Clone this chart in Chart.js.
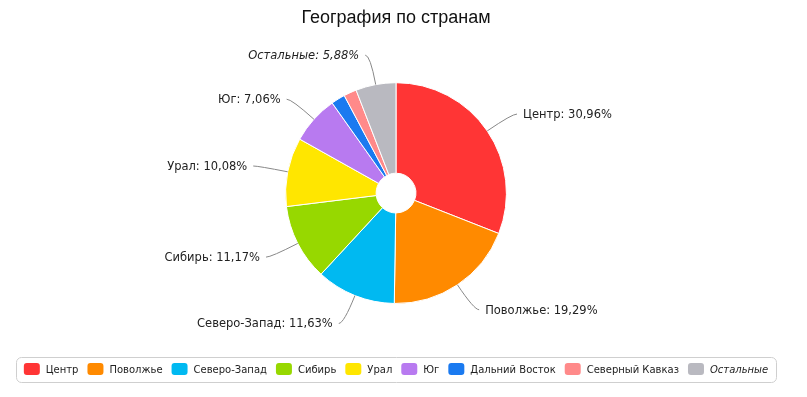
<!DOCTYPE html>
<html>
<head>
<meta charset="utf-8">
<script src="https://cdn.jsdelivr.net/npm/chart.js@4"></script>
<style>
  html, body { margin: 0; padding: 0; background: #fff; }
  #wrap { width: 807px; height: 397px; }
</style>
</head>
<body>
<div id="wrap"><canvas id="geoChart" width="807" height="397"></canvas></div>
<script>
const categories = ['Центр', 'Поволжье', 'Северо-Запад', 'Сибирь', 'Урал', 'Юг', 'Дальний Восток', 'Северный Кавказ', 'Остальные'];
const shares = [30.96, 19.29, 11.63, 11.17, 10.08, 7.06, 2.05, 1.88, 5.88];
const colors = ['#ff3535', '#ff8a00', '#00b9f1', '#97d800', '#ffe600', '#b87af0', '#1a7af0', '#ff8a8a', '#b9b9c0'];
const italicCats = ['Остальные'];

const fmt = v => v.toFixed(2).replace('.', ',') + '%';
const FONT = '"DejaVu Sans", Verdana, sans-serif';

// подписи с выносками
const sliceLabels = {
  id: 'sliceLabels',
  afterDatasetsDraw(chart) {
    const ctx = chart.ctx;
    const meta = chart.getDatasetMeta(0);
    ctx.save();
    meta.data.forEach((arc, i) => {
      if (shares[i] < 5) return;
      const mid = (arc.startAngle + arc.endAngle) / 2;
      const cos = Math.cos(mid), sin = Math.sin(mid);
      const r = arc.outerRadius;
      const ex = arc.x + r * cos, ey = arc.y + r * sin;
      const ax = arc.x + (r + 30) * cos, ay = arc.y + (r + 30) * sin;
      const side = cos >= 0 ? 1 : -1;
      ctx.strokeStyle = '#888';
      ctx.lineWidth = 1;
      ctx.beginPath();
      ctx.moveTo(ex, ey);
      ctx.quadraticCurveTo(ax, ay, ax + side * 5, ay);
      ctx.stroke();
      const it = italicCats.includes(categories[i]);
      ctx.font = (it ? 'italic ' : '') + '11.5px ' + FONT;
      ctx.fillStyle = '#222';
      ctx.textBaseline = 'middle';
      ctx.textAlign = side > 0 ? 'left' : 'right';
      ctx.fillText(categories[i] + ': ' + fmt(shares[i]), ax + side * 11, ay + 1);
    });
    ctx.restore();
  }
};

// легенда в рамке
const boxLegend = {
  id: 'boxLegend',
  afterDraw(chart) {
    const ctx = chart.ctx;
    ctx.save();
    const sw = 16, sh = 12, gapText = 6, gapItem = 9;
    const lf = c => (italicCats.includes(c) ? 'italic ' : '') + '10px ' + FONT;
    const widths = categories.map(c => {
      ctx.font = lf(c);
      return sw + gapText + ctx.measureText(c).width;
    });
    const total = widths.reduce((a, b) => a + b, 0) + gapItem * (categories.length - 1);
    const cx = 396, cy = 369;
    let x = cx - total / 2;
    // рамка
    ctx.strokeStyle = '#cfcfcf';
    ctx.lineWidth = 1;
    ctx.beginPath();
    ctx.roundRect(Math.round(x - 8) + 0.5, 357.5, Math.round(total + 16), 25, 5);
    ctx.stroke();
    categories.forEach((c, i) => {
      ctx.fillStyle = colors[i];
      ctx.beginPath();
      ctx.roundRect(x, cy - sh / 2, sw, sh, 3);
      ctx.fill();
      ctx.font = lf(c);
      ctx.fillStyle = '#222';
      ctx.textBaseline = 'middle';
      ctx.textAlign = 'left';
      ctx.fillText(c, x + sw + gapText, cy + 1);
      x += widths[i] + gapItem;
    });
    ctx.restore();
  }
};

new Chart(document.getElementById('geoChart'), {
  type: 'doughnut',
  data: {
    labels: categories,
    datasets: [{
      data: shares,
      backgroundColor: colors,
      borderColor: '#ffffff',
      borderWidth: 1
    }]
  },
  options: {
    responsive: false,
    animation: false,
    cutout: '18%',
    layout: { padding: { left: 0, right: 15, top: 0, bottom: 93 } },
    plugins: {
      legend: { display: false },
      tooltip: { enabled: false },
      title: {
        display: true,
        text: 'География по странам',
        color: '#111',
        font: { family: '"Liberation Sans", Arial, sans-serif', size: 18, weight: 'normal', lineHeight: 1.2 },
        padding: { top: 7, bottom: 53.6 }
      }
    }
  },
  plugins: [sliceLabels, boxLegend]
});
</script>
</body>
</html>
